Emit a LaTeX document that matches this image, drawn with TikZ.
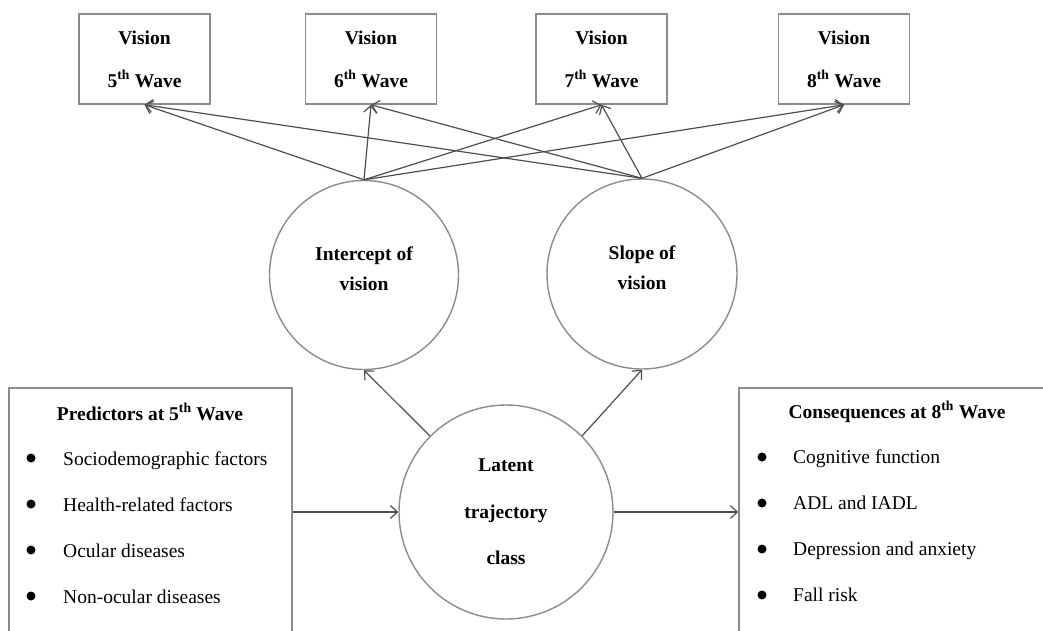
\documentclass[tikz,border=0pt]{standalone}
\usepackage{fontspec}
\setmainfont{Liberation Serif}
\usetikzlibrary{arrows.meta,positioning}
\definecolor{boxgray}{HTML}{8C8C8C}
\definecolor{arrgray}{HTML}{4E4E4E}

\tikzset{
  wavebox/.style={draw=boxgray, line width=1.6pt, minimum width=131pt, minimum height=90pt,
    inner sep=0pt, align=center, font=\fontsize{19.5}{43}\selectfont\bfseries},
  factor/.style={draw=boxgray, line width=1.4pt, circle, inner sep=0pt, align=center},
  listbox/.style={draw=boxgray, line width=1.6pt, minimum height=248pt, inner sep=0pt},
  listtitle/.style={anchor=base, inner sep=0pt, font=\fontsize{19.5}{22}\selectfont\bfseries},
  listitem/.style={anchor=base west, inner sep=0pt, font=\fontsize{19.5}{22}\selectfont},
  bullet/.style={circle, fill=black, inner sep=0pt, minimum size=9pt},
  link/.style={draw=arrgray, line width=1.2pt, -{Straight Barb[length=7pt,width=13pt]}}
}

\begin{document}
\begin{tikzpicture}[x=1pt, y=-1pt]
  \path[use as bounding box] (0,0) rectangle (1043,630);
  \clip (0,0) rectangle (1043,630);

  % vision at each wave
  \node[wavebox] (w5) at (144.5,59) {Vision\\5\textsuperscript{th} Wave};
  \node[wavebox] (w6) at (371,59) {Vision\\6\textsuperscript{th} Wave};
  \node[wavebox] (w7) at (601.5,59) {Vision\\7\textsuperscript{th} Wave};
  \node[wavebox] (w8) at (844,59) {Vision\\8\textsuperscript{th} Wave};

  % growth factors (text sits a little above the centre)
  \node[factor, minimum size=189pt, font=\fontsize{19.5}{30}\selectfont\bfseries]
    (inter) at (364,275) {Intercept of\\vision\\[-18pt]\mbox{}};
  \node[factor, minimum size=190pt, font=\fontsize{19.5}{30}\selectfont\bfseries]
    (slope) at (642,274) {Slope of\\vision\\[-18pt]\mbox{}};
  \node[factor, minimum size=214pt, font=\fontsize{19.5}{46.5}\selectfont\bfseries]
    (latent) at (506,512) {Latent\\trajectory\\class};

  % predictors and consequences
  \node[listbox, minimum width=283pt] (pred) at (150.5,512) {};
  \node[listbox, minimum width=322pt] (cons) at (900,512) {};
  \node[listtitle] (predtitle) at (150,420) {Predictors at 5\textsuperscript{th} Wave};
  \node[listtitle] (constitle) at (897,418) {Consequences at 8\textsuperscript{th} Wave};
  \foreach \txt [count=\i] in {Sociodemographic factors, Health-related factors,
      Ocular diseases, Non-ocular diseases} {
    \node[bullet] (predbul\i) at (31,412+46*\i) {};
    \node[listitem] (pred\i) at (63,419+46*\i) {\txt};
  }
  \foreach \txt [count=\i] in {Cognitive function, ADL and IADL,
      Depression and anxiety, Fall risk} {
    \node[bullet] (consbul\i) at (762,411+46*\i) {};
    \node[listitem] (cons\i) at (793,417+46*\i) {\txt};
  }

  % paths
  \foreach \w in {5,...,8} {
    \draw[link] (inter.north) -- (w\w.south);
    \draw[link] (slope.north) -- (w\w.south);
  }
  \draw[link] (latent.135) -- (inter.south);
  \draw[link] (latent.45) -- (slope.south);
  \draw[link] (pred) -- (latent);
  \draw[link] (latent) -- (cons);
\end{tikzpicture}
\end{document}
